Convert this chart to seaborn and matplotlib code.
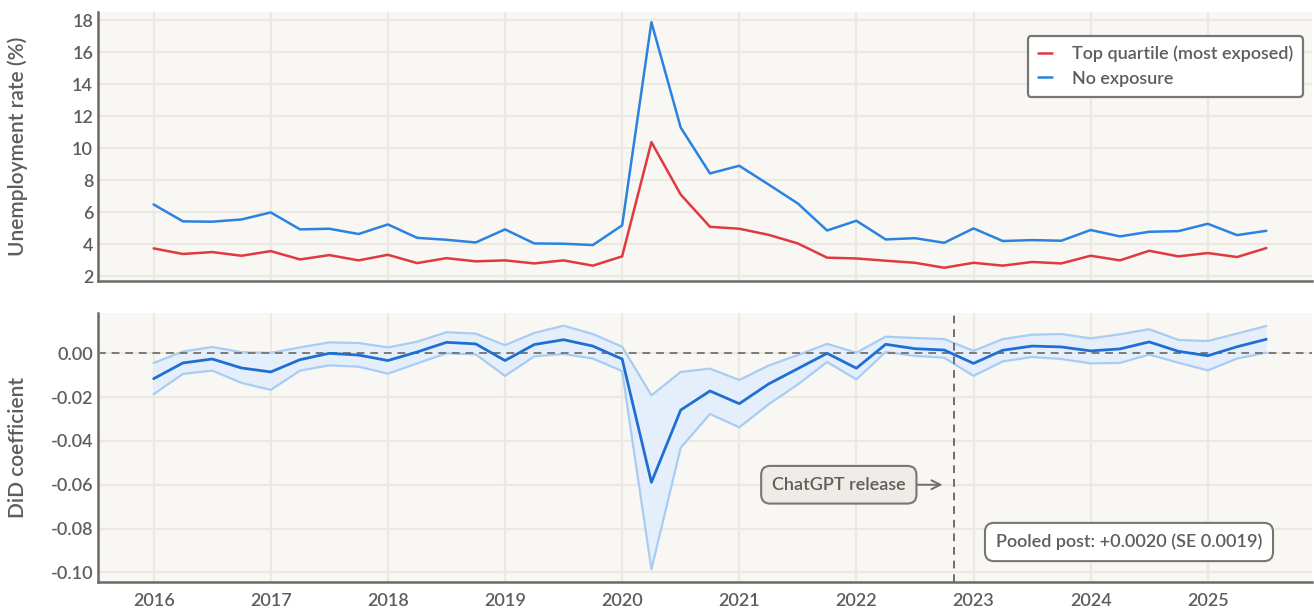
import numpy as np
import pandas as pd
import matplotlib
matplotlib.use("Agg")
import matplotlib.pyplot as plt
import seaborn as sns

# ---------------- data ----------------
quarters = [2016 + 0.25 * i for i in range(39)]  # 2016Q1 .. 2025Q3

top_quartile = [3.73, 3.38, 3.50, 3.27, 3.56, 3.04, 3.31, 2.98, 3.33, 2.81, 3.12,
                2.92, 2.98, 2.79, 2.98, 2.65, 3.23, 10.38, 7.10, 5.08, 4.96, 4.58,
                4.04, 3.15, 3.10, 2.96, 2.83, 2.52, 2.83, 2.65, 2.88, 2.79, 3.27,
                2.98, 3.58, 3.23, 3.44, 3.19, 3.75]
no_exposure = [6.48, 5.42, 5.40, 5.54, 5.98, 4.92, 4.96, 4.63, 5.23, 4.39, 4.27,
               4.10, 4.92, 4.04, 4.02, 3.94, 5.17, 17.88, 11.29, 8.42, 8.90, 7.73,
               6.54, 4.85, 5.46, 4.29, 4.37, 4.08, 4.98, 4.19, 4.25, 4.21, 4.88,
               4.48, 4.77, 4.81, 5.27, 4.56, 4.83]

did_coef = [-0.0116, -0.0044, -0.0026, -0.0067, -0.0085, -0.0029, 0.0000, -0.0008,
            -0.0033, 0.0006, 0.0050, 0.0043, -0.0033, 0.0040, 0.0062, 0.0033,
            -0.0026, -0.0589, -0.0259, -0.0172, -0.0230, -0.0140, -0.0070, 0.0000,
            -0.0068, 0.0041, 0.0021, 0.0015, -0.0046, 0.0014, 0.0033, 0.0029,
            0.0011, 0.0020, 0.0052, 0.0009, -0.0011, 0.0030, 0.0064]
did_upper = [-0.0044, 0.0008, 0.0029, 0.0005, 0.0002, 0.0027, 0.0050, 0.0047,
             0.0027, 0.0053, 0.0096, 0.0090, 0.0037, 0.0093, 0.0126, 0.0088,
             0.0030, -0.0192, -0.0085, -0.0070, -0.0122, -0.0056, -0.0008, 0.0043,
             0.0003, 0.0076, 0.0070, 0.0065, 0.0011, 0.0065, 0.0085, 0.0088,
             0.0068, 0.0087, 0.0110, 0.0061, 0.0056, 0.0090, 0.0125]
did_lower = [-0.0187, -0.0094, -0.0079, -0.0135, -0.0167, -0.0079, -0.0055, -0.0061,
             -0.0093, -0.0046, 0.0000, -0.0005, -0.0103, -0.0014, -0.0003, -0.0024,
             -0.0081, -0.0986, -0.0431, -0.0277, -0.0338, -0.0233, -0.0142, -0.0040,
             -0.0119, 0.0006, -0.0012, -0.0020, -0.0103, -0.0037, -0.0017, -0.0026,
             -0.0046, -0.0044, -0.0006, -0.0043, -0.0078, -0.0024, 0.0003]

series_names = ["Top quartile (most exposed)", "No exposure"]
year_ticks = list(range(2016, 2026))
top_yticks = [2, 4, 6, 8, 10, 12, 14, 16, 18]
bottom_yticks = [-0.10, -0.08, -0.06, -0.04, -0.02, 0.00]
chatgpt_release = 2022.835
pooled_text = "Pooled post: +0.0020 (SE 0.0019)"

# ---------------- style ----------------
sns.set_theme(style="white")
plt.rcParams["font.family"] = ["Lato", "DejaVu Sans"]
FW = "semibold"

BG = "#F8F7F4"
GRID = "#ECE9E1"
SPINE = "#6B6A66"
TXT = "#5E5D59"
RED = "#E0393E"
BLUE = "#2B82E0"
DBLUE = "#1F6FD3"
CI_LINE = "#A9CCF3"
CI_FILL = "#E5EFFB"

fig = plt.figure(figsize=(13.14, 6.09), dpi=100)
fig.patch.set_facecolor("white")
W, H = 1314, 609
ax1 = fig.add_axes([98 / W, 1 - 281 / H, (1312 - 98) / W, (281 - 12) / H])
ax2 = fig.add_axes([98 / W, 1 - 582 / H, (1312 - 98) / W, (582 - 313) / H])

xlim = (2015.525, 2025.89)

for ax in (ax1, ax2):
    ax.set_facecolor(BG)
    ax.set_xlim(*xlim)
    ax.set_xticks(year_ticks)
    ax.grid(True, color=GRID, linewidth=1.6, zorder=0)
    ax.set_axisbelow(True)
    for s in ("top", "right"):
        ax.spines[s].set_visible(False)
    for s in ("left", "bottom"):
        ax.spines[s].set_color(SPINE)
        ax.spines[s].set_linewidth(1.8)
    ax.tick_params(axis="both", length=0, colors=TXT, labelsize=13)

# ---------------- top panel ----------------
df_top = pd.DataFrame({
    "quarter": quarters * 2,
    "rate": top_quartile + no_exposure,
    "group": [series_names[0]] * len(quarters) + [series_names[1]] * len(quarters),
})
sns.lineplot(data=df_top, x="quarter", y="rate", hue="group",
             palette={series_names[0]: RED, series_names[1]: BLUE},
             linewidth=1.8, ax=ax1, zorder=3)
ax1.set_ylim(1.69, 18.52)
ax1.set_yticks(top_yticks)
ax1.set_yticklabels([str(v) for v in top_yticks], fontweight=FW)
ax1.set_xticklabels([])
ax1.set_xlabel("")
ax1.set_ylabel("Unemployment rate (%)", fontsize=15, color=TXT, fontweight=FW)
leg = ax1.legend(loc="upper right", bbox_to_anchor=(1303 / W, 1 - 36 / H),
                 bbox_transform=fig.transFigure,
                 frameon=True, fancybox=True, handlelength=0.8,
                 handletextpad=1.1, borderpad=0.55, labelspacing=0.45,
                 borderaxespad=0, prop={"weight": FW, "size": 13})
fr = leg.get_frame()
fr.set_edgecolor("#777672")
fr.set_linewidth(1.6)
fr.set_facecolor("white")
fr.set_alpha(1)
for t in leg.get_texts():
    t.set_color(TXT)

# ---------------- bottom panel ----------------
ax2.fill_between(quarters, did_lower, did_upper, color=CI_FILL, zorder=2, linewidth=0)
sns.lineplot(x=quarters, y=did_upper, color=CI_LINE, linewidth=1.6, ax=ax2, zorder=3)
sns.lineplot(x=quarters, y=did_lower, color=CI_LINE, linewidth=1.6, ax=ax2, zorder=3)
sns.lineplot(x=quarters, y=did_coef, color=DBLUE, linewidth=2.0, ax=ax2, zorder=4)
ax2.axhline(0, color="#7A7975", linestyle=(0, (4, 3)), linewidth=1.4, zorder=3)
ax2.axvline(chatgpt_release, color="#6F6E6A", linestyle=(0, (4, 3)), linewidth=1.4, zorder=3)
ax2.set_ylim(-0.1044, 0.0184)
ax2.set_yticks(bottom_yticks)
ax2.set_yticklabels([f"{v:.2f}" for v in bottom_yticks], fontweight=FW)
ax2.set_xticklabels([str(y) for y in year_ticks], fontweight=FW)
ax2.tick_params(axis="x", pad=8)
ax2.set_xlabel("")
ax2.set_ylabel("DiD coefficient", fontsize=15, color=TXT, fontweight=FW)

ax2.annotate("ChatGPT release", xy=(chatgpt_release - 0.1, -0.060),
             xytext=(2021.85, -0.060), textcoords="data",
             ha="center", va="center", fontsize=13, color=TXT, fontweight=FW,
             bbox=dict(boxstyle="round,pad=0.6,rounding_size=0.5",
                       fc="#EEECE7", ec="#777672", lw=1.5),
             arrowprops=dict(arrowstyle="->", color="#6F6E6A", lw=1.4,
                             shrinkA=0, shrinkB=0, mutation_scale=16),
             zorder=6)

ax2.text(1129 / W, 1 - 542 / H, pooled_text, transform=fig.transFigure,
         ha="center", va="center", fontsize=13, color=TXT, fontweight=FW,
         bbox=dict(boxstyle="round,pad=0.6,rounding_size=0.5",
                   fc="white", ec="#777672", lw=1.5), zorder=6)

for ax in (ax1, ax2):
    ax.yaxis.set_label_coords(-0.058, 0.5)

fig.savefig("out.png", dpi=100, facecolor="white")
